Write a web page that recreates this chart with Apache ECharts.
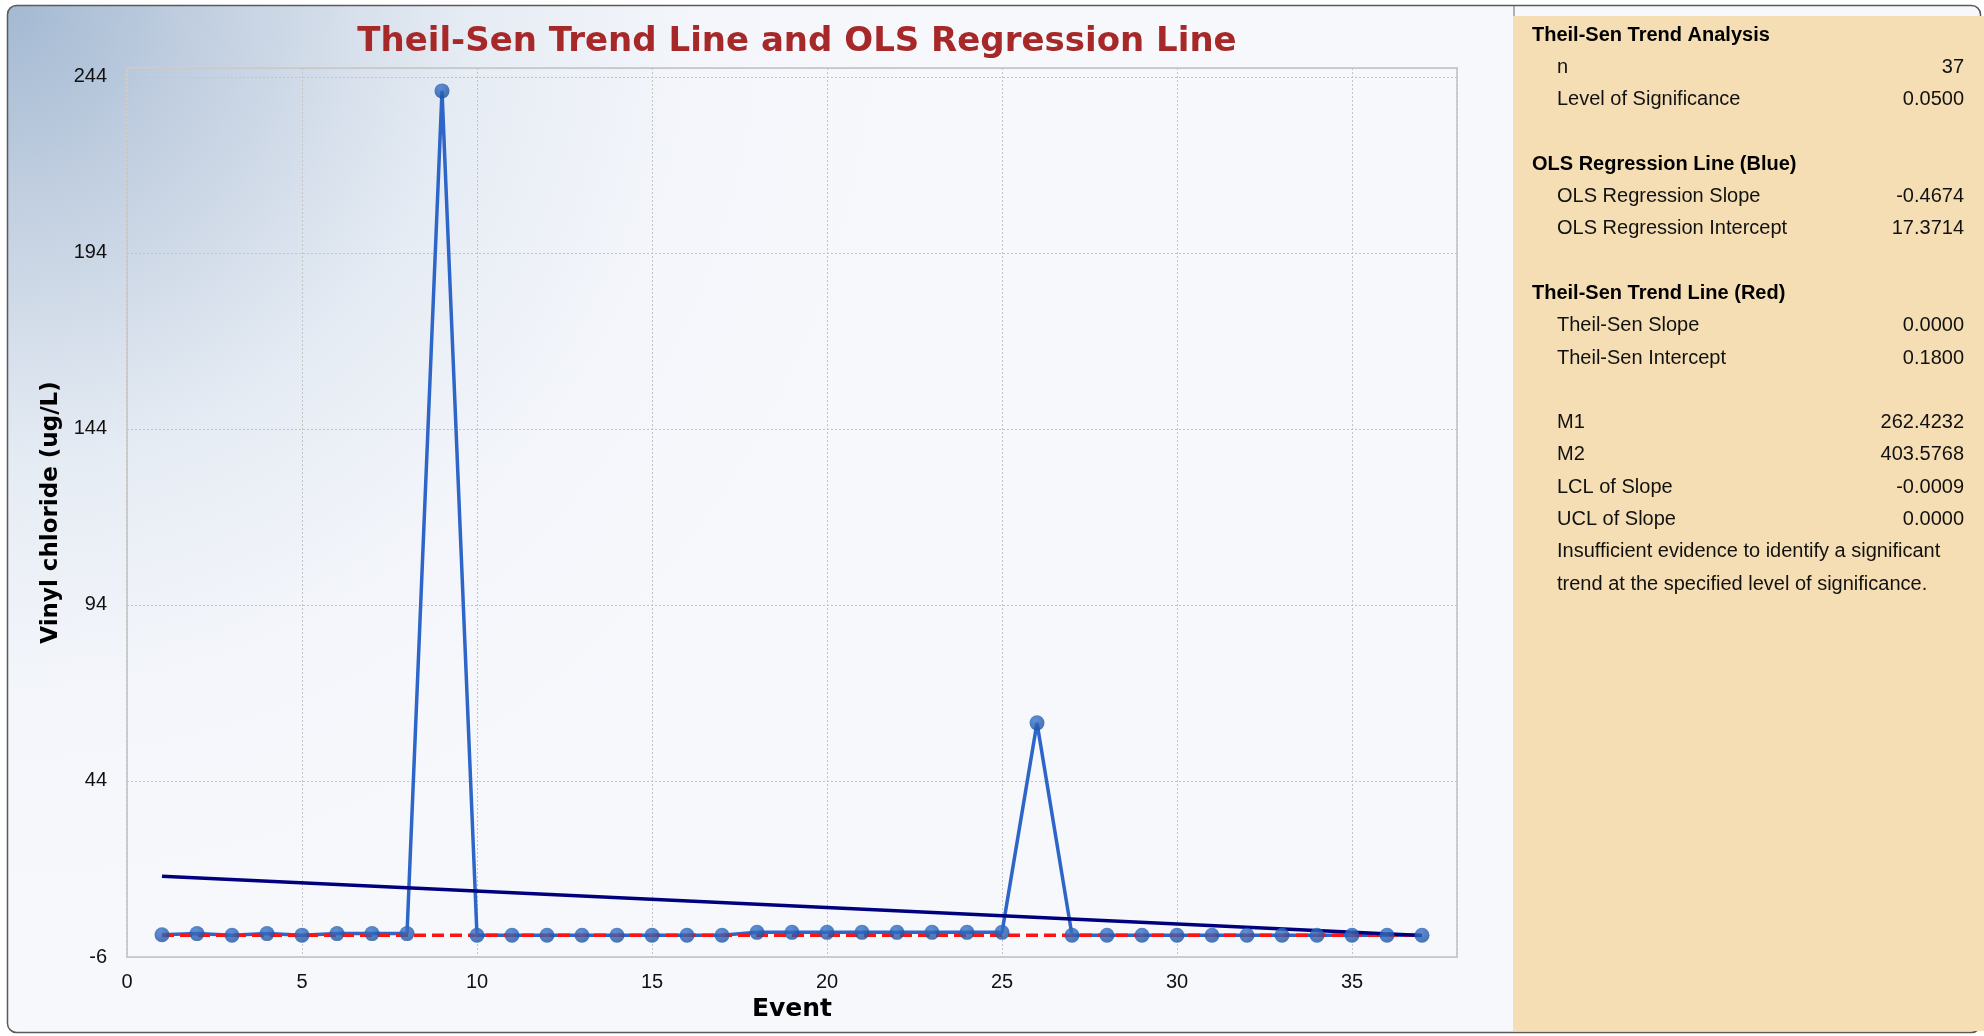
<!DOCTYPE html>
<html>
<head>
<meta charset="utf-8">
<title>Theil-Sen Trend Line and OLS Regression Line</title>
<script src="https://cdn.jsdelivr.net/npm/echarts@6/dist/echarts.min.js"></script>
<style>
  html, body { margin: 0; padding: 0; background: #ffffff; }
  #chart { width: 1984px; height: 1036px; }
</style>
</head>
<body>
<div id="chart"></div>
<script>
// Sampling events and measured vinyl chloride (ug/L)
const events = [1, 2, 3, 4, 5, 6, 7, 8, 9, 10, 11, 12, 13, 14, 15, 16, 17, 18, 19,
                20, 21, 22, 23, 24, 25, 26, 27, 28, 29, 30, 31, 32, 33, 34, 35, 36, 37];
const concentrations = [0.3, 0.65, 0.18, 0.65, 0.2, 0.65, 0.65, 0.65, 240, 0.18,
                        0.18, 0.18, 0.18, 0.18, 0.18, 0.18, 0.18, 1.0, 1.0, 1.0,
                        1.0, 1.0, 1.0, 1.0, 1.0, 60.5, 0.18, 0.18, 0.18, 0.18,
                        0.18, 0.18, 0.18, 0.18, 0.18, 0.18, 0.18];

// Trend statistics
const sampleCount = 37;
const significanceLevel = 0.05;
const olsSlope = -0.4674;
const olsIntercept = 17.3714;
const theilSenSlope = 0.0;
const theilSenIntercept = 0.18;
const statM1 = 262.4232;
const statM2 = 403.5768;
const slopeLCL = -0.0009;
const slopeUCL = 0.0;
const conclusionLines = [
  'Insufficient evidence to identify a significant',
  'trend at the specified level of significance.'
];

// Axis scales
const xAxisMin = 0, xAxisMax = 38, xAxisStep = 5;
const yAxisMin = -6, yAxisMax = 246.5, yAxisStep = 50;

const fmt4 = v => v.toFixed(4);

// Rows of the statistics panel: [kind, label, value]
const panelRows = [
  ['head', 'Theil-Sen Trend Analysis', ''],
  ['item', 'n', String(sampleCount)],
  ['item', 'Level of Significance', fmt4(significanceLevel)],
  ['gap', '', ''],
  ['head', 'OLS Regression Line (Blue)', ''],
  ['item', 'OLS Regression Slope', fmt4(olsSlope)],
  ['item', 'OLS Regression Intercept', fmt4(olsIntercept)],
  ['gap', '', ''],
  ['head', 'Theil-Sen Trend Line (Red)', ''],
  ['item', 'Theil-Sen Slope', fmt4(theilSenSlope)],
  ['item', 'Theil-Sen Intercept', fmt4(theilSenIntercept)],
  ['gap', '', ''],
  ['item', 'M1', fmt4(statM1)],
  ['item', 'M2', fmt4(statM2)],
  ['item', 'LCL of Slope', fmt4(slopeLCL)],
  ['item', 'UCL of Slope', fmt4(slopeUCL)],
  ['item', conclusionLines[0], ''],
  ['item', conclusionLines[1], '']
];

const measured = events.map((e, i) => [e, concentrations[i]]);
const xFirst = events[0], xLast = events[events.length - 1];
const olsLine = [[xFirst, olsIntercept + olsSlope * xFirst], [xLast, olsIntercept + olsSlope * xLast]];
const theilSenLine = [[xFirst, theilSenIntercept + theilSenSlope * xFirst], [xLast, theilSenIntercept + theilSenSlope * xLast]];

// Panel graphics
const panelText = [];
const rowTop = 35, rowStep = 32.3;
panelRows.forEach((r, i) => {
  const y = rowTop + rowStep * i;
  if (r[0] === 'head') {
    panelText.push({
      type: 'text', x: 1532, y: y, z: 10,
      style: { text: r[1], fill: '#000', font: 'bold 20px "Liberation Sans", Arial, sans-serif', textVerticalAlign: 'middle' }
    });
  } else if (r[0] === 'item') {
    panelText.push({
      type: 'text', x: 1557, y: y, z: 10,
      style: { text: r[1], fill: '#111', font: '20px "Liberation Sans", Arial, sans-serif', textVerticalAlign: 'middle' }
    });
    if (r[2] !== '') {
      panelText.push({
        type: 'text', x: 1964, y: y, z: 10,
        style: { text: r[2], fill: '#111', font: '20px "Liberation Sans", Arial, sans-serif', textAlign: 'right', textVerticalAlign: 'middle' }
      });
    }
  }
});

const chart = echarts.init(document.getElementById('chart'), null, { renderer: 'canvas' });

const dotFill = new echarts.graphic.RadialGradient(0.4, 0.3, 0.75, [
  { offset: 0, color: '#3b74cb' },
  { offset: 1, color: '#18509f' }
]);

chart.setOption({
  animation: false,
  backgroundColor: '#ffffff',
  title: {
    text: 'Theil-Sen Trend Line and OLS Regression Line',
    left: 792,
    textAlign: 'center',
    top: 20,
    textStyle: { color: '#a62828', fontSize: 34, fontWeight: 'bold', fontFamily: '"DejaVu Sans", sans-serif' }
  },
  graphic: [
    {
      type: 'rect', z: -100, silent: true,
      shape: { x: 7.5, y: 5.5, width: 1973, height: 1027, r: 9 },
      style: {
        fill: new echarts.graphic.RadialGradient(0, 0, 0.9, [
          { offset: 0, color: '#a3b9d2' },
          { offset: 0.22, color: '#c3d0e1' },
          { offset: 0.5, color: '#e6ecf4' },
          { offset: 0.75, color: '#f4f6fb' },
          { offset: 1, color: '#f6f8fc' }
        ]),
        stroke: '#5a5a5a', lineWidth: 1.5
      }
    },
    {
      type: 'rect', z: -90, silent: true,
      shape: { x: 1513, y: 16, width: 1465, height: 1015 },
      style: { fill: '#f5deb3' }
    },
    {
      type: 'line', z: -80, silent: true,
      shape: { x1: 1514, y1: 6, x2: 1514, y2: 16 },
      style: { stroke: '#6a6a6a', lineWidth: 1 }
    }
  ].concat(panelText),
  grid: {
    left: 127, top: 68, right: 527, bottom: 79,
    show: true, backgroundColor: 'transparent',
    borderColor: '#cdcdcd', borderWidth: 2
  },
  xAxis: {
    type: 'value',
    min: xAxisMin, max: xAxisMax, interval: xAxisStep,
    name: 'Event',
    nameLocation: 'middle',
    nameGap: 40,
    nameTextStyle: { color: '#000', fontSize: 25, fontWeight: 'bold', fontFamily: '"DejaVu Sans", sans-serif' },
    axisLine: { show: false },
    axisTick: { show: false },
    axisLabel: { color: '#111', fontSize: 20, fontFamily: '"Liberation Sans", Arial, sans-serif', margin: 15, showMaxLabel: false },
    splitLine: { show: true, lineStyle: { color: '#c4c4c4', width: 1, type: [2, 2] } }
  },
  yAxis: {
    type: 'value',
    min: yAxisMin, max: yAxisMax, interval: yAxisStep,
    name: 'Vinyl chloride (ug/L)',
    nameLocation: 'middle',
    nameGap: 64,
    nameTextStyle: { color: '#000', fontSize: 23, fontWeight: 'bold', fontFamily: '"DejaVu Sans", sans-serif' },
    axisLine: { show: false },
    axisTick: { show: false },
    axisLabel: { color: '#111', fontSize: 20, fontFamily: '"Liberation Sans", Arial, sans-serif', margin: 20, showMaxLabel: false },
    splitLine: { show: true, lineStyle: { color: '#c4c4c4', width: 1, type: [2, 2] } }
  },
  series: [
    {
      name: 'Vinyl chloride', type: 'line', data: measured, z: 2,
      showSymbol: false, silent: true,
      lineStyle: { color: '#2d66c8', width: 3.5 }
    },
    {
      name: 'Theil-Sen Trend Line', type: 'line', data: theilSenLine, z: 3,
      showSymbol: false, silent: true,
      lineStyle: { color: '#ff1414', width: 3.5, type: [12, 6] }
    },
    {
      name: 'OLS Regression Line', type: 'line', data: olsLine, z: 3,
      showSymbol: false, silent: true,
      lineStyle: { color: '#00007f', width: 3.5 }
    },
    {
      name: 'Vinyl chloride points', type: 'scatter', data: measured, z: 4,
      symbol: 'circle', symbolSize: 15, silent: true,
      itemStyle: { color: dotFill }
    }
  ]
});
</script>
</body>
</html>
